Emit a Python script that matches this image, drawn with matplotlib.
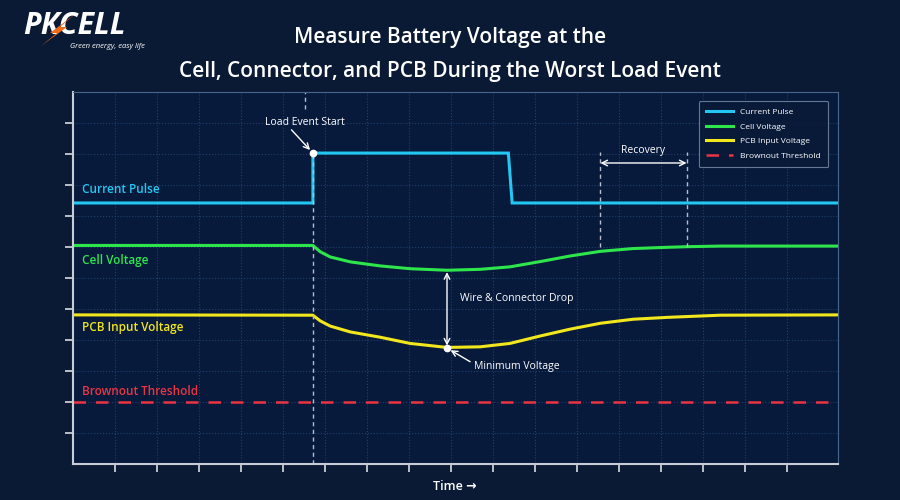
import matplotlib
matplotlib.use("Agg")
import matplotlib.pyplot as plt
from matplotlib.patches import Polygon

plt.rcParams['font.family'] = ['Open Sans', 'DejaVu Sans']

# data (x = time units, y = arbitrary level units)
pulse_x = [0, 5.71, 5.71, 10.36, 10.45, 18.2]
pulse_y = [8.42, 8.42, 10.03, 10.03, 8.42, 8.42]

cell_x = [0, 5.71, 5.88, 6.12, 6.60, 7.31, 8.02, 8.90, 9.69, 10.40, 11.12, 11.83, 12.55, 13.33, 14.14, 14.62, 15.40, 18.2]
cell_y = [7.05, 7.05, 6.85, 6.68, 6.52, 6.39, 6.30, 6.25, 6.28, 6.36, 6.53, 6.71, 6.86, 6.95, 6.99, 7.01, 7.03, 7.03]

pcb_x = [0, 5.71, 5.88, 6.12, 6.60, 7.31, 8.02, 8.90, 9.69, 10.40, 11.12, 11.83, 12.55, 13.33, 14.14, 15.40, 18.2]
pcb_y = [4.81, 4.80, 4.62, 4.45, 4.26, 4.09, 3.89, 3.76, 3.78, 3.89, 4.13, 4.35, 4.54, 4.67, 4.73, 4.80, 4.81]

brownout = 2.0
load_start = 5.71
recovery = [12.55, 14.6]
min_point = (8.90, 3.74)
drop_top = 6.19

legend_names = ["Current Pulse", "Cell Voltage", "PCB Input Voltage", "Brownout Threshold"]

c_pulse = '#22c8f2'
c_cell = '#2ee64c'
c_pcb = '#f2e61c'
c_red = '#ec3440'
bg = '#0b1a34'
face = '#071a3c'

fig = plt.figure(figsize=(9, 5), dpi=100, facecolor=bg)
ax = fig.add_axes([0.081, 0.072, 0.850, 0.744], facecolor=face)

ax.plot(pulse_x, pulse_y, color=c_pulse, lw=2.2, label=legend_names[0], solid_joinstyle='miter')
ax.plot(cell_x, cell_y, color=c_cell, lw=2.2, label=legend_names[1])
ax.plot(pcb_x, pcb_y, color=c_pcb, lw=2.2, label=legend_names[2])
ax.axhline(brownout, color=c_red, lw=1.8, ls=(0, (5, 4)), label=legend_names[3])

ax.set_xlim(0, 18.2)
ax.set_ylim(0, 12)
ax.set_xticks(range(1, 18))
ax.set_yticks(range(1, 12))
ax.set_xticklabels([])
ax.set_yticklabels([])
ax.tick_params(colors='#c8ccd4', length=6, width=1.3)
ax.grid(True, color='#21406b', ls=':', lw=0.8)
ax.set_axisbelow(True)

for s in ['left', 'bottom']:
    ax.spines[s].set_color('#c8ccd4')
    ax.spines[s].set_linewidth(1.5)
for s in ['top', 'right']:
    ax.spines[s].set_color('#47668c')
    ax.spines[s].set_linewidth(0.8)

# load event marker
ax.plot([load_start, load_start], [0, 10.0], color='#b8bcc6', lw=1, ls=(0, (3, 2.5)))
ax.plot([5.52, 5.52], [11.45, 12], color='#b8bcc6', lw=1, ls=(0, (3, 2.5)))
ax.plot([load_start], [10.03], 'o', color='white', ms=4.5, zorder=5)
ax.text(5.52, 11.03, "Load Event Start", color='white', fontsize=7.5, ha='center', va='center')
ax.annotate("", xy=(load_start, 10.03), xytext=(5.2, 10.78),
            arrowprops=dict(arrowstyle='->', color='white', lw=1,
                            shrinkA=0, shrinkB=3))

# recovery
for xr in recovery:
    ax.plot([xr, xr], [7.0, 10.06], color='#b8bcc6', lw=1, ls=(0, (3, 2.5)))
ax.annotate("", xy=(recovery[0], 9.71), xytext=(recovery[1], 9.71),
            arrowprops=dict(arrowstyle='<->', color='white', lw=1,
                            shrinkA=0, shrinkB=0))
ax.text(sum(recovery) / 2, 10.12, "Recovery", color='white', fontsize=7.5,
        ha='center', va='center')

# wire & connector drop
ax.annotate("", xy=(min_point[0], drop_top), xytext=(min_point[0], 3.82),
            arrowprops=dict(arrowstyle='<->', color='white', lw=1,
                            shrinkA=0, shrinkB=0))
ax.text(9.21, 5.35, "Wire & Connector Drop", color='white', fontsize=7.5,
        ha='left', va='center')

# minimum voltage
ax.plot([min_point[0]], [min_point[1]], 'o', color='white', ms=4.5, zorder=5)
ax.text(9.55, 3.16, "Minimum Voltage", color='white', fontsize=7.5, ha='left', va='center')
ax.annotate("", xy=min_point, xytext=(9.45, 3.3),
            arrowprops=dict(arrowstyle='->', color='white', lw=1,
                            shrinkA=0, shrinkB=3))

# series labels
ax.text(0.21, 8.84, "Current Pulse", color=c_pulse, fontsize=8.5, fontweight='semibold', va='center')
ax.text(0.21, 6.58, "Cell Voltage", color=c_cell, fontsize=8.5, fontweight='semibold', va='center')
ax.text(0.21, 4.39, "PCB Input Voltage", color=c_pcb, fontsize=8.5, fontweight='semibold', va='center')
ax.text(0.21, 2.35, "Brownout Threshold", color=c_red, fontsize=8.5, fontweight='semibold', va='center')

leg = ax.legend(loc='upper right', fontsize=6.0, frameon=True, facecolor='#0a1a38',
                edgecolor='#7d90aa', labelcolor='white', handlelength=3.2,
                borderpad=0.9, labelspacing=0.8, handletextpad=0.9,
                bbox_to_anchor=(0.993, 0.987))
leg.get_frame().set_linewidth(0.8)

fig.text(0.505, 0.028, "Time →", color='white', fontsize=9, fontweight='semibold',
         ha='center', va='center')

# title
fig.text(0.5, 0.925, "Measure Battery Voltage at the", color='white', fontsize=15,
         fontweight='semibold', ha='center', va='center')
fig.text(0.5, 0.856, "Cell, Connector, and PCB During the Worst Load Event", color='white',
         fontsize=15, fontweight='semibold', ha='center', va='center')

# logo
fig.text(0.026, 0.947, "PKCELL", color='white', fontsize=22, fontweight='bold',
         style='italic', ha='left', va='center')
bolt = [(74, 15), (50, 33), (57, 33), (41, 46), (67, 27), (60, 27)]
fig.add_artist(Polygon([(px / 900, 1 - py / 500) for px, py in bolt], closed=True,
                       transform=fig.transFigure, facecolor='#f26a1b',
                       edgecolor='none', zorder=10))
fig.text(0.161, 0.906, "Green energy, easy life", color='white', fontsize=5.5,
         style='italic', ha='right', va='center')

fig.savefig("out.png", dpi=100, facecolor=bg)
